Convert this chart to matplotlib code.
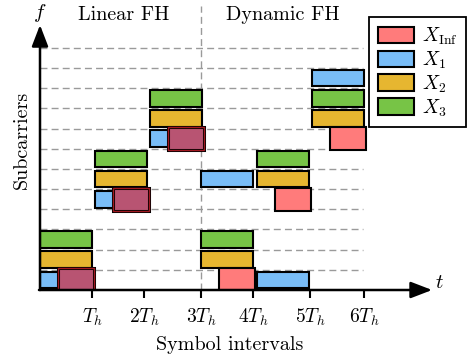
import matplotlib.pyplot as plt
from matplotlib.patches import Rectangle, Patch

plt.rcParams['font.family'] = 'serif'
plt.rcParams['font.serif'] = ['cmr10']
plt.rcParams['mathtext.fontset'] = 'cm'
plt.rcParams['axes.unicode_minus'] = False

# time slots (in T_h) where each hop starts, and tick positions
slot_start = [0, 1.06, 2.12, 3.1, 4.17, 5.23]
tick_pos = [1, 2, 3.1, 4.1, 5.19, 6.23]
tick_labels = [r'$T_h$', r'$2T_h$', r'$3T_h$', r'$4T_h$', r'$5T_h$', r'$6T_h$']

# subcarrier index used in every slot
rows_inf = [0, 4, 7, 0, 4, 7]
rows_x1 = [0, 4, 7, 5, 0, 10]
rows_x2 = [1, 5, 8, 1, 5, 8]
rows_x3 = [2, 6, 9, 2, 6, 9]

n_rows = 12
switch_t = 3.1

c_inf = '#ff7b7b'
c_x1 = '#79bdf7'
c_x2 = '#e6b630'
c_x3 = '#77c446'
c_hit = '#b85472'

fig = plt.figure(figsize=(4.69, 3.6), dpi=100)
ax = fig.add_axes([40/469, 70/360, 416/469, 286.4/360])
ax.set_xlim(0, 8)
ax.set_ylim(0, 14.2)
for s in ax.spines.values():
    s.set_visible(False)

# grid
ax.hlines(range(1, n_rows + 1), 0, 6.21, colors='#9a9a9a', linestyles=(0, (5, 3)), lw=1.0, zorder=1)
ax.vlines(switch_t, 0, 14.1, colors='#9a9a9a', linestyles=(0, (5, 3)), lw=1.0, zorder=1)

# user blocks
for rows, col in [(rows_x1, c_x1), (rows_x2, c_x2), (rows_x3, c_x3)]:
    for t, r in zip(slot_start, rows):
        ax.add_patch(Rectangle((t, r + 0.09), 1.0, 0.82, facecolor=col,
                               edgecolor='black', lw=1.5, zorder=3))

# interferer, collides with X1 in the linear part
for t, r, r1 in zip(slot_start, rows_inf, rows_x1):
    if r == r1:
        ax.add_patch(Rectangle((t + 0.35, r - 0.08), 0.69, 1.15, facecolor=c_hit,
                               edgecolor='black', lw=2.2, zorder=4))
        ax.add_patch(Rectangle((t + 0.35, r - 0.08), 0.69, 1.15, facecolor='none',
                               edgecolor='#a01820', lw=1.0, zorder=4))
    else:
        ax.add_patch(Rectangle((t + 0.35, r - 0.08), 0.69, 1.15, facecolor=c_inf,
                               edgecolor='black', lw=1.5, zorder=4))

# axes arrows
arrow = dict(arrowstyle='-|>,head_length=0.65,head_width=0.25', lw=1.8, color='black',
             shrinkA=0, shrinkB=0, mutation_scale=20)
ax.annotate('', xy=(7.54, 0), xytext=(-0.02, 0), arrowprops=arrow, zorder=6)
ax.annotate('', xy=(0, 13.14), xytext=(0, 0), arrowprops=arrow, zorder=6)

ax.set_xticks(tick_pos)
ax.set_xticklabels(tick_labels, fontsize=14)
ax.set_yticks([])
ax.tick_params(axis='x', direction='out', length=6, width=1.5, pad=6)

ax.text(0, 13.75, r'$f$', fontsize=15, ha='center', va='center', clip_on=False)
ax.text(7.69, 0.35, r'$t$', fontsize=15, ha='center', va='center', clip_on=False)
ax.text(1.6, 13.65, 'Linear FH', fontsize=14.5, ha='center', va='center')
ax.text(4.67, 13.65, 'Dynamic FH', fontsize=14.5, ha='center', va='center')

fig.text(230/469, 1 - 345/360, 'Symbol intervals', fontsize=14.5, ha='center', va='center')
fig.text(22/469, 1 - 140/360, 'Subcarriers', fontsize=14.5, ha='center', va='center', rotation=90)

handles = [Patch(facecolor=c, edgecolor='black', lw=1.5) for c in [c_inf, c_x1, c_x2, c_x3]]
labels = [r'$X_{\mathrm{Inf}}$', r'$X_1$', r'$X_2$', r'$X_3$']
leg = ax.legend(handles, labels, loc='upper left', bbox_to_anchor=(369/469, 1 - 17/360),
                bbox_transform=fig.transFigure, borderaxespad=0, fontsize=14,
                handlelength=1.85, handleheight=0.93, handletextpad=0.4,
                labelspacing=0.13, borderpad=0.45, fancybox=False, framealpha=1)
leg.get_frame().set_edgecolor('black')
leg.get_frame().set_linewidth(1.3)
leg.set_zorder(10)

fig.savefig('out.png', dpi=100)
